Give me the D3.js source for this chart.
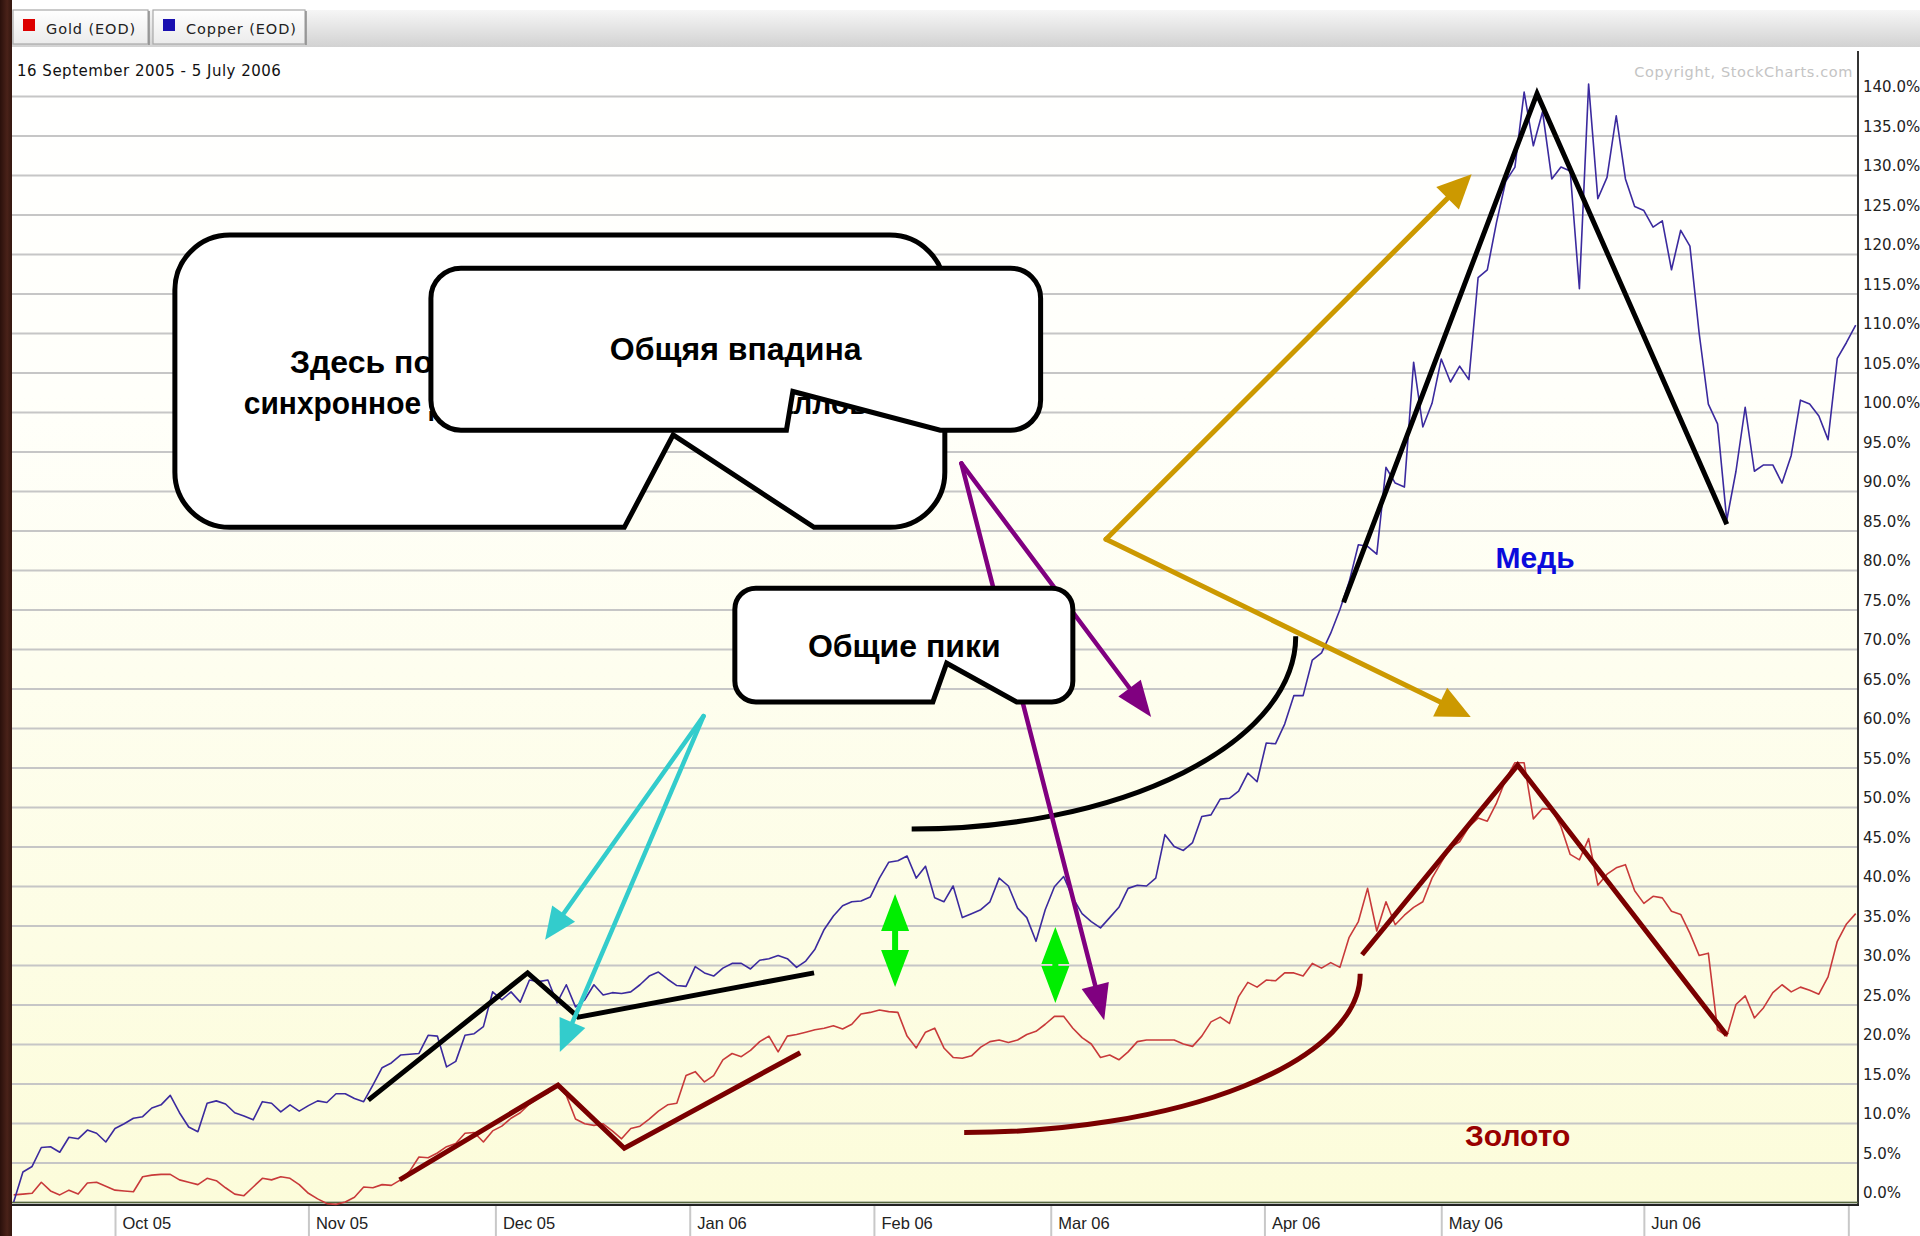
<!DOCTYPE html>
<html><head><meta charset="utf-8">
<script src="https://cdn.jsdelivr.net/npm/d3@7"></script>
<style>
html,body{margin:0;padding:0;background:#fff;overflow:hidden}
svg{display:block}
</style></head><body>
<svg id="chart" width="1920" height="1236"></svg>
<script>
// ---------------- DATA (percent change since 16 Sep 2005, one value per trading day) ----------------
const copperValues = [
  0, 3.8, 4.5, 6.9, 7.0, 6.3, 8.2, 8.0, 9.1, 8.7,
  7.6, 9.3, 9.9, 10.6, 10.8, 11.9, 12.3, 13.5, 11.3, 9.5,
  8.9, 12.5, 12.8, 12.4, 11.3, 10.9, 10.4, 12.7, 12.5, 11.4,
  12.3, 11.5, 12.2, 12.8, 12.6, 13.7, 13.7, 13.1, 12.7, 14.8,
  17.0, 17.6, 18.6, 18.7, 18.8, 21.1, 21.0, 17.1, 17.8, 21.1,
  21.3, 22.2, 26.6, 25.6, 26.6, 25.3, 28.1, 27.9, 28.1, 25.2,
  27.5, 24.7, 25.6, 27.5, 26.2, 26.5, 26.4, 26.6, 27.5, 28.6,
  29.1, 28.2, 27.4, 27.3, 29.8, 29.0, 28.6, 29.6, 30.2, 30.2,
  29.5, 30.6, 30.8, 31.2, 30.8, 29.7, 30.5, 32.0, 34.5, 36.2,
  37.5, 38.0, 38.1, 38.6, 41.0, 43.0, 43.2, 43.8, 41.0, 42.5,
  38.5, 38.0, 40.0, 36.0, 36.5, 37.0, 38.0, 41.0, 40.0, 37.2,
  36.0, 33.0, 37.0, 39.9, 41.2, 38.5, 36.5, 35.5, 34.7, 36.0,
  37.3, 39.7, 40.1, 40.0, 41.0, 46.5, 45.0, 44.5, 45.5, 48.8,
  49.0, 51.0, 51.1, 52.0, 54.3, 53.2, 58.1, 58.0, 60.5, 64.1,
  64.1, 68.6, 69.5, 72.0, 75.0, 78.5, 83.2, 83.0, 82.0, 93.0,
  91.0, 90.5, 106.3, 98.1, 101.1, 106.7, 103.8, 105.8, 104.1, 117.0,
  118.0, 124.0, 129.2, 131.0, 140.5, 133.7, 138.0, 129.5, 131.0, 130.5,
  115.6, 141.5, 127.0, 129.7, 137.5, 129.5, 126.0, 125.5, 123.4, 124.2,
  118.0, 123.0, 121.0, 110.0, 101.0, 98.5, 86.3, 92.5, 100.6, 92.5,
  93.3, 93.3, 91.0, 94.5, 101.5, 101.0, 99.5, 96.5, 106.8, 108.8, 111.0
];
const goldValues = [
  0.9, 1.0, 1.1, 2.5, 1.4, 0.9, 1.5, 1.0, 2.4, 2.5,
  2.0, 1.5, 1.4, 1.3, 3.2, 3.4, 3.5, 3.5, 2.8, 2.5,
  2.2, 3.0, 2.7, 1.8, 1.0, 0.8, 1.9, 3.0, 2.8, 3.2,
  3.0, 2.2, 1.1, 0.4, -0.2, -0.3, 0.0, 0.6, 1.9, 1.8,
  2.2, 2.1, 2.8, 3.9, 5.7, 5.6, 6.2, 7.0, 7.4, 8.7,
  8.8, 7.6, 9.0, 9.6, 10.6, 11.3, 12.4, 13.2, 13.8, 14.8,
  13.5, 10.5, 9.9, 9.7, 9.9, 9.0, 8.0, 9.3, 9.6, 10.5,
  11.5, 12.3, 12.5, 16.0, 16.5, 15.2, 16.0, 18.0, 18.8, 18.4,
  19.2, 20.3, 21.0, 19.0, 21.0, 21.2, 21.5, 21.8, 22.0, 22.3,
  21.9, 22.5, 23.8, 24.0, 24.3, 24.1, 24.0, 21.0, 19.5, 21.5,
  22.0, 19.5, 18.3, 18.2, 18.5, 19.6, 20.3, 20.5, 20.2, 20.5,
  21.2, 21.6, 22.5, 23.5, 23.5, 22.0, 20.8, 20.0, 18.3, 18.6,
  18.0, 19.0, 20.3, 20.5, 20.5, 20.5, 20.5, 20.0, 19.7, 21.0,
  22.8, 23.4, 22.6, 26.0, 27.8, 27.2, 28.1, 28.0, 29.0, 29.0,
  28.6, 30.2, 29.6, 30.3, 29.7, 33.5, 35.5, 39.7, 34.3, 38.0,
  35.1, 36.3, 37.3, 38.0, 41.0, 43.0, 44.9, 45.6, 47.5, 48.6,
  48.2, 50.5, 53.5, 55.6, 55.6, 48.5, 49.8, 49.7, 47.5, 44.0,
  43.3, 46.0, 40.1, 41.5, 42.3, 42.7, 39.4, 37.8, 38.7, 38.5,
  36.8, 36.4, 34.0, 31.2, 31.5, 21.8, 21.0, 25.0, 26.1, 23.3,
  24.6, 26.5, 27.5, 26.6, 27.2, 26.8, 26.3, 28.5, 33.0, 35.2, 36.5
];
// month boundaries (trading-day index) and labels
const monthTickIndex = [11, 32, 52.3, 73.4, 93.4, 112.6, 135.8, 155, 177, 199.2];
const monthLabels = ["Oct 05", "Nov 05", "Dec 05", "Jan 06", "Feb 06", "Mar 06", "Apr 06", "May 06", "Jun 06", ""];
const yTickValues = [0,5,10,15,20,25,30,35,40,45,50,55,60,65,70,75,80,85,90,95,100,105,110,115,120,125,130,135,140];
const legendNames = ["Gold (EOD)", "Copper (EOD)"];
const dateRangeText = "16 September 2005 - 5 July 2006";
const copyrightText = "Copyright, StockCharts.com";

// ---------------- ANNOTATIONS (in data space: [trading-day index, percent]) ----------------
const copperZigzag1 = [[38.5, 12.9], [55.8, 29.0], [61.3, 23.4], [86.9, 29.0]];
const goldZigzag1   = [[41.9, 2.8], [59.1, 14.8], [66.3, 6.8], [85.4, 18.9]];
const copperZigzag2 = [[144.4, 75.9], [165.4, 140.3], [186.0, 85.8]];
const goldZigzag2   = [[146.4, 31.3], [163.3, 55.3], [186.0, 21.1]];
const cyanFrom = [74.9, 61.5];
const cyanTo = [[57.7, 33.2], [59.3, 19.0]];
const purpleFrom = [102.9, 93.5];
const purpleTo = [[123.5, 61.4], [118.4, 23.0]];
const ochreFrom = [118.6, 83.9];
const ochreTo = [[158.3, 130.1], [158.2, 61.4]];
const greenArrows = [[95.7, 39.0, 27.2], [113.1, 34.8, 25.2]];
const copperArc = {center: [97.5, 71.6], rx: 41.7, ry: 24.4};
const goldArc = {center: [103.2, 28.9], rx: 43.0, ry: 20.1};
// callouts: box [i0, v0, i1, v1], tail [leftI, apexI, apexV, rightI]
// text rows: [text, i, v, anchor, forcedLength]
const callouts = [
  {box: [17.5, 122.4, 101.1, 85.4], r: 55, tail: [66.3, 71.6, 97.1, 86.9],
   rows: [["Здесь по", 30.0, 104.9, "start", null],
          ["синхронное движение цен двух металлов.", 59.3, 99.8, "middle", 632]]},
  {box: [45.3, 118.2, 111.5, 97.7], r: 30, tail: [83.9, 84.6, 102.6, 100.6],
   rows: [["Общяя впадина", 78.4, 106.6, "middle", null]]},
  {box: [78.3, 77.7, 115.0, 63.3], r: 21, tail: [99.8, 101.3, 68.2, 108.9],
   rows: [["Общие пики", 96.7, 69.0, "middle", null]]}
];
const seriesLabels = [
  {text: "Медь", at: [165.2, 80.2], color: "#0a0adc"},
  {text: "Золото", at: [163.3, 7.1], color: "#990000"}
];

// ---------------- LAYOUT ----------------
const plotLeft = 12, plotRight = 1858, plotTop = 47, plotBottom = 1203;
const x = d3.scaleLinear().domain([0, 200]).range([13.7, 1855.7]);
const y = d3.scaleLinear().domain([0, 140]).range([1202, 96]);

const svg = d3.select("#chart");
const defs = svg.append("defs");
const bg = defs.append("linearGradient").attr("id", "plotBg").attr("x1", 0).attr("y1", 0).attr("x2", 0).attr("y2", 1);
bg.append("stop").attr("offset", "0%").attr("stop-color", "#ffffff");
bg.append("stop").attr("offset", "30%").attr("stop-color", "#fffffa");
bg.append("stop").attr("offset", "100%").attr("stop-color", "#fcfcda");
const hb = defs.append("linearGradient").attr("id", "hdrBg").attr("x1", 0).attr("y1", 0).attr("x2", 0).attr("y2", 1);
hb.append("stop").attr("offset", "0%").attr("stop-color", "#f6f6f6");
hb.append("stop").attr("offset", "100%").attr("stop-color", "#d2d2d2");
const tb = defs.append("linearGradient").attr("id", "tabBg").attr("x1", 0).attr("y1", 0).attr("x2", 0).attr("y2", 1);
tb.append("stop").attr("offset", "0%").attr("stop-color", "#ffffff");
tb.append("stop").attr("offset", "100%").attr("stop-color", "#ebebeb");
const lb = defs.append("linearGradient").attr("id", "leftBg").attr("x1", 0).attr("y1", 0).attr("x2", 1).attr("y2", 0);
lb.append("stop").attr("offset", "0%").attr("stop-color", "#2a100b");
lb.append("stop").attr("offset", "60%").attr("stop-color", "#4a2219");
lb.append("stop").attr("offset", "100%").attr("stop-color", "#33160f");

svg.append("rect").attr("width", 1920).attr("height", 1236).attr("fill", "#ffffff");
// header bar
svg.append("rect").attr("x", plotLeft).attr("y", 10).attr("width", 1920 - plotLeft).attr("height", 37).attr("fill", "url(#hdrBg)");
// plot background
svg.append("rect").attr("x", plotLeft).attr("y", plotTop).attr("width", plotRight - plotLeft).attr("height", plotBottom - plotTop).attr("fill", "url(#plotBg)");

// legend tabs
const tabs = [[13, 148, "#dd0000"], [153, 305, "#1a10b0"]];
legendNames.forEach((name, k) => {
  const [a, b, c] = tabs[k];
  svg.append("rect").attr("x", a).attr("y", 10).attr("width", b - a).attr("height", 34)
    .attr("fill", "url(#tabBg)").attr("stroke", "#a8a8a8").attr("stroke-width", 1.2);
  svg.append("line").attr("x1", b + 1).attr("y1", 11).attr("x2", b + 1).attr("y2", 45).attr("stroke", "#8a8a8a").attr("stroke-width", 1.5);
  svg.append("rect").attr("x", a + 10).attr("y", 19).attr("width", 12).attr("height", 12).attr("fill", c);
  svg.append("text").attr("x", a + 33).attr("y", 34).attr("font-family", "DejaVu Sans, Verdana, sans-serif")
    .attr("font-size", 14.5).attr("fill", "#222").attr("letter-spacing", 0.9).text(name);
});

// gridlines
const grid = svg.append("g").attr("transform", `translate(${plotLeft},0)`)
  .call(d3.axisLeft(y).tickValues(yTickValues).tickSize(-(plotRight - plotLeft)).tickFormat(""));
grid.select(".domain").remove();
grid.selectAll(".tick line").attr("stroke", "#c6c6c6").attr("stroke-width", 1.8);

// date range & copyright
svg.append("text").attr("x", 17).attr("y", 76).attr("font-family", "DejaVu Sans, Verdana, sans-serif")
  .attr("font-size", 15).attr("fill", "#111").attr("letter-spacing", 0.5).text(dateRangeText);
svg.append("text").attr("x", 1853).attr("y", 77).attr("text-anchor", "end").attr("font-family", "DejaVu Sans, Verdana, sans-serif")
  .attr("font-size", 14.5).attr("fill", "#c4c4c4").attr("letter-spacing", 0.6).text(copyrightText);

// right axis
const gY = svg.append("g").attr("transform", `translate(${plotRight},0)`)
  .call(d3.axisRight(y).tickValues(yTickValues).tickSize(0).tickPadding(5).tickFormat(d => d.toFixed(1) + "%"));
gY.select(".domain").remove();
gY.selectAll(".tick text").attr("font-family", "DejaVu Sans, Verdana, sans-serif").attr("font-size", 15)
  .attr("fill", "#222").attr("dy", "-0.28em");
svg.append("line").attr("x1", plotRight).attr("y1", plotTop + 4).attr("x2", plotRight).attr("y2", plotBottom + 3)
  .attr("stroke", "#333").attr("stroke-width", 2);

// bottom axis
const gX = svg.append("g").attr("transform", `translate(0,${plotBottom + 2})`)
  .call(d3.axisBottom(x).tickValues(monthTickIndex).tickSize(31).tickFormat((d, i) => monthLabels[i]));
gX.select(".domain").remove();
gX.selectAll(".tick line").attr("stroke", "#c8c8c8").attr("stroke-width", 2);
gX.selectAll(".tick text").attr("text-anchor", "start").attr("x", 7).attr("y", 24).attr("dy", 0)
  .attr("font-family", "'Liberation Sans Narrow', 'Liberation Sans', Arial, sans-serif").attr("font-size", 16.5).attr("fill", "#222");
svg.append("line").attr("x1", plotLeft).attr("y1", plotBottom - 0.5).attr("x2", plotRight).attr("y2", plotBottom - 0.5)
  .attr("stroke", "#56683c").attr("stroke-width", 1.5);
svg.append("line").attr("x1", plotLeft).attr("y1", plotBottom + 2).attr("x2", plotRight + 1).attr("y2", plotBottom + 2)
  .attr("stroke", "#222").attr("stroke-width", 2);

// left dark border
svg.append("rect").attr("x", 0).attr("y", 0).attr("width", plotLeft).attr("height", 1236).attr("fill", "url(#leftBg)");

// data lines
const line = d3.line().x((d, i) => x(i)).y(d => y(d));
svg.append("path").datum(goldValues).attr("d", line).attr("fill", "none").attr("stroke", "#c83a3a").attr("stroke-width", 1.6).attr("stroke-linejoin", "round");
svg.append("path").datum(copperValues).attr("d", line).attr("fill", "none").attr("stroke", "#3b2a9e").attr("stroke-width", 1.6).attr("stroke-linejoin", "round");

// ---------------- annotation drawing ----------------
const ann = svg.append("g");
const pl = d3.line().x(d => x(d[0])).y(d => y(d[1]));
function poly(pts, color, w) {
  ann.append("path").attr("d", pl(pts)).attr("fill", "none").attr("stroke", color).attr("stroke-width", w)
    .attr("stroke-linejoin", "miter").attr("stroke-linecap", "butt");
}
poly(copperZigzag1, "#000", 5);
poly(goldZigzag1, "#7a0000", 5);
poly(copperZigzag2, "#000", 5);
poly(goldZigzag2, "#7a0000", 5);

function arc(a, color, w) {
  const cx = x(a.center[0]), cy = y(a.center[1]);
  const rx = x(a.center[0] + a.rx) - cx, ry = y(a.center[1] - a.ry) - cy;
  ann.append("path").attr("d", `M${cx},${cy + ry} A${rx},${ry} 0 0 0 ${cx + rx},${cy}`)
    .attr("fill", "none").attr("stroke", color).attr("stroke-width", w);
}
arc(copperArc, "#000", 5);
arc(goldArc, "#7a0000", 5);

function arrow(from, to, color, w, headLen, headHalf) {
  const x1 = x(from[0]), y1 = y(from[1]), x2 = x(to[0]), y2 = y(to[1]);
  const dx = x2 - x1, dy = y2 - y1, L = Math.hypot(dx, dy), ux = dx / L, uy = dy / L;
  const bx = x2 - ux * headLen, by = y2 - uy * headLen;
  ann.append("line").attr("x1", x1).attr("y1", y1).attr("x2", bx + ux * 3).attr("y2", by + uy * 3)
    .attr("stroke", color).attr("stroke-width", w).attr("stroke-linecap", "round");
  ann.append("polygon").attr("points", [[x2, y2], [bx - uy * headHalf, by + ux * headHalf], [bx + uy * headHalf, by - ux * headHalf]]
    .map(p => p.join(",")).join(" ")).attr("fill", color);
}
cyanTo.forEach(t => arrow(cyanFrom, t, "#33cccc", 4.5, 32, 14));
ochreTo.forEach(t => arrow(ochreFrom, t, "#cc9900", 5, 34, 16));
purpleTo.forEach(t => arrow(purpleFrom, t, "#800080", 4.5, 36, 14));

greenArrows.forEach(g => {
  const gx = x(g[0]), yt = y(g[1]), yb = y(g[2]);
  const head = 37, hw = 14, sw = 3;
  const ym = (yt + yb) / 2;
  const topBase = Math.min(yt + head, ym), botBase = Math.max(yb - head, ym);
  ann.append("polygon").attr("points", `${gx},${yt} ${gx + hw},${topBase} ${gx + sw},${topBase} ${gx + sw},${botBase} ${gx + hw},${botBase} ${gx},${yb} ${gx - hw},${botBase} ${gx - sw},${botBase} ${gx - sw},${topBase} ${gx - hw},${topBase}`)
    .attr("fill", "#00ee00");
});

// callouts
callouts.forEach(c => {
  const x0 = x(c.box[0]), y0 = y(c.box[1]), x1 = x(c.box[2]), y1 = y(c.box[3]), r = c.r;
  const tl = x(c.tail[0]), ax = x(c.tail[1]), ay = y(c.tail[2]), tr = x(c.tail[3]);
  const d = `M${x0 + r},${y0} H${x1 - r} A${r},${r} 0 0 1 ${x1},${y0 + r} V${y1 - r} A${r},${r} 0 0 1 ${x1 - r},${y1} H${tr} L${ax},${ay} L${tl},${y1} H${x0 + r} A${r},${r} 0 0 1 ${x0},${y1 - r} V${y0 + r} A${r},${r} 0 0 1 ${x0 + r},${y0} Z`;
  const g = ann.append("g");
  g.append("path").attr("d", d).attr("fill", "#fff").attr("stroke", "#000").attr("stroke-width", 5).attr("stroke-linejoin", "miter");
  c.rows.forEach(rw => {
    const te = g.append("text").attr("x", x(rw[1])).attr("y", y(rw[2])).attr("text-anchor", rw[3])
      .attr("font-family", "'Liberation Sans', Arial, sans-serif").attr("font-weight", "bold").attr("font-size", 32).attr("fill", "#000").text(rw[0]);
    if (rw[4]) te.attr("textLength", rw[4]).attr("lengthAdjust", "spacingAndGlyphs");
  });
});

seriesLabels.forEach(s => {
  ann.append("text").attr("x", x(s.at[0])).attr("y", y(s.at[1])).attr("text-anchor", "middle")
    .attr("font-family", "'Liberation Sans', Arial, sans-serif").attr("font-weight", "bold").attr("font-size", 30)
    .attr("fill", s.color).text(s.text);
});
</script>
</body></html>
